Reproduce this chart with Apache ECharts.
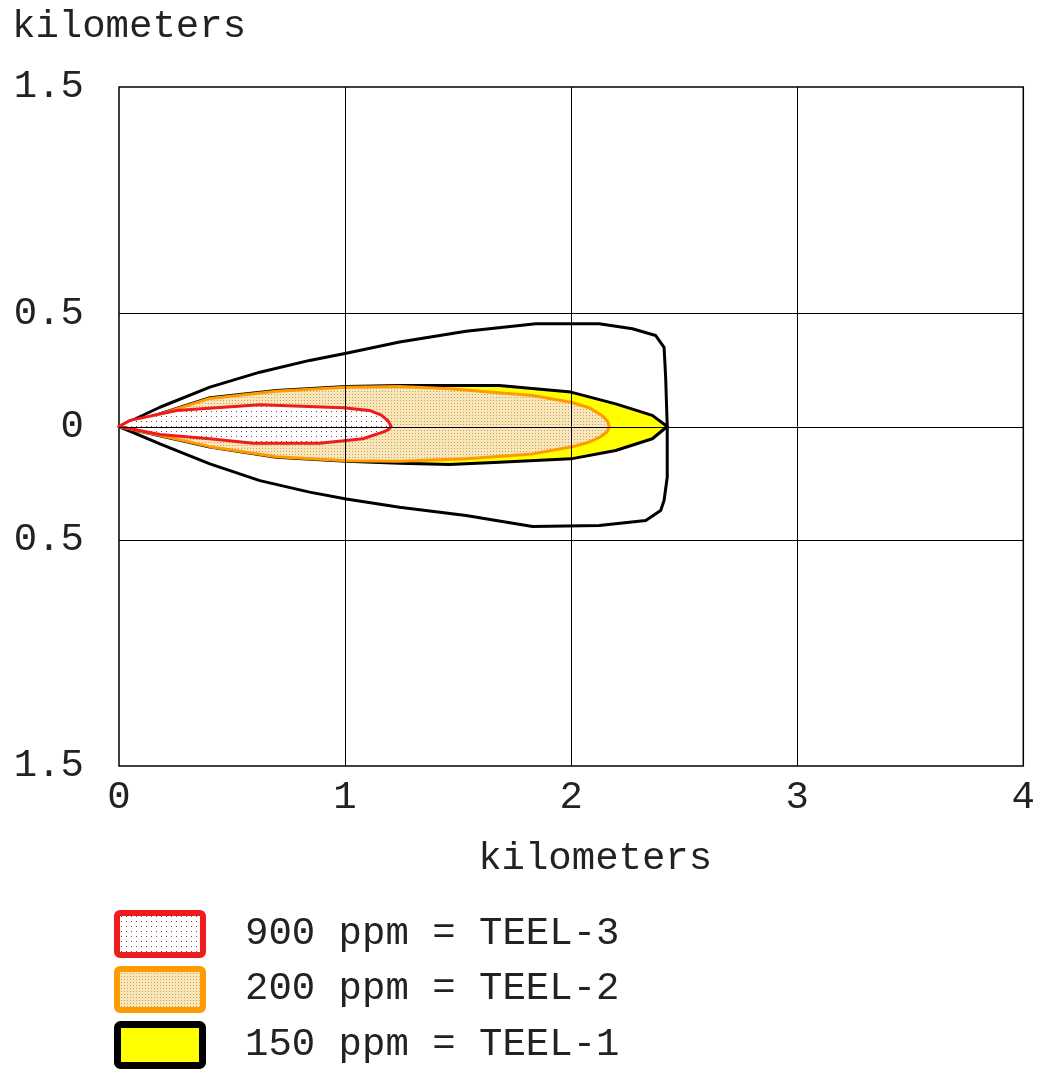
<!DOCTYPE html>
<html>
<head>
<meta charset="utf-8">
<script src="https://cdn.jsdelivr.net/npm/echarts@6/dist/echarts.min.js"></script>
<style>
  html, body { margin: 0; padding: 0; background: #fff; }
  #chart { width: 1038px; height: 1073px; }
</style>
</head>
<body>
<div id="chart"></div>
<script>
// Threat zone footprint, downwind distance (km) vs crosswind distance (km)
const xTicks = [0, 1, 2, 3, 4];
const yTickLabels = ['1.5', '0.5', '0', '0.5', '1.5'];
const gridX = [1, 2, 3];
const gridY = [0.5, 0, -0.5];

// wind direction confidence line
const confidenceLine = [
  [0, 0], [0.181, 0.085], [0.402, 0.174], [0.623, 0.24], [0.843, 0.292], [1.005, 0.324],
  [1.241, 0.373], [1.535, 0.421], [1.844, 0.454], [2.124, 0.454], [2.271, 0.432],
  [2.374, 0.402], [2.411, 0.35], [2.418, 0.218], [2.425, 0],
  [2.425, -0.224], [2.411, -0.327], [2.396, -0.371], [2.33, -0.415], [2.124, -0.437],
  [1.829, -0.442], [1.535, -0.393], [1.241, -0.357], [1.005, -0.32], [0.843, -0.29],
  [0.623, -0.239], [0.402, -0.165], [0.181, -0.077], [0, 0]
];

// 150 ppm = TEEL-1
const teel1Zone = [
  [0, 0], [0.2, 0.062], [0.402, 0.127], [0.696, 0.159], [1.005, 0.177], [1.241, 0.181],
  [1.682, 0.181], [1.999, 0.152], [2.197, 0.1], [2.359, 0.049], [2.425, 0],
  [2.359, -0.054], [2.197, -0.106], [1.999, -0.143], [1.682, -0.158], [1.461, -0.168],
  [1.241, -0.162], [1.005, -0.153], [0.696, -0.136], [0.402, -0.091], [0.2, -0.045], [0, 0]
];

// 200 ppm = TEEL-2
const teel2Zone = [
  [0, 0], [0.2, 0.06], [0.402, 0.124], [0.696, 0.156], [1.005, 0.173], [1.241, 0.177],
  [1.461, 0.167], [1.829, 0.137], [1.999, 0.107], [2.08, 0.083], [2.135, 0.05],
  [2.162, 0.022], [2.168, 0], [2.16, -0.022], [2.13, -0.046], [2.07, -0.072],
  [1.999, -0.091], [1.829, -0.121], [1.535, -0.143], [1.241, -0.153],
  [1.005, -0.151], [0.696, -0.134], [0.402, -0.089], [0.2, -0.043], [0, 0]
];

// 900 ppm = TEEL-3
const teel3Zone = [
  [0, 0], [0.049, 0.027], [0.255, 0.071], [0.623, 0.096], [0.99, 0.083], [1.108, 0.071],
  [1.16, 0.05], [1.19, 0.025], [1.204, 0], [1.19, -0.015],
  [1.167, -0.025], [1.079, -0.054], [0.887, -0.074], [0.593, -0.074], [0.402, -0.054],
  [0.181, -0.035], [0, 0]
];

const legendLabels = ['900 ppm = TEEL-3', '200 ppm = TEEL-2', '150 ppm = TEEL-1'];

const FONT = '"Liberation Mono", "Courier New", monospace';
const TEXT = '#222';

function dotPattern(bg, dot, w, h) {
  const c = document.createElement('canvas');
  c.width = w; c.height = h;
  const g = c.getContext('2d');
  g.fillStyle = bg; g.fillRect(0, 0, w, h);
  g.fillStyle = dot; g.fillRect(1, 1, 1, 1);
  return { image: c, repeat: 'repeat' };
}
const redDots = dotPattern('#ffffff', '#9a3a3a', 5, 5);
const orangeDots = dotPattern('#f7e8bc', '#d99a60', 3, 3);

function zoneSeries(points, style) {
  return {
    type: 'custom',
    coordinateSystem: 'cartesian2d',
    data: points,
    silent: true,
    renderItem: function (params, api) {
      if (params.dataIndex !== 0) return null;
      const pts = points.map(p => api.coord(p));
      return {
        type: style.fill === 'none' ? 'polyline' : 'polygon',
        shape: { points: pts },
        style: Object.assign({ lineJoin: 'round' }, style)
      };
    }
  };
}

const chart = echarts.init(document.getElementById('chart'), null, { renderer: 'canvas' });

chart.setOption({
  animation: false,
  backgroundColor: '#fff',
  title: {
    text: 'kilometers',
    left: 12, top: 7, padding: 0,
    textStyle: { fontFamily: FONT, fontSize: 39, fontWeight: 'normal', color: TEXT }
  },
  grid: {
    left: 119, right: 13, top: 87, bottom: 307,
    show: true, borderColor: '#000', borderWidth: 1.5, backgroundColor: 'transparent'
  },
  xAxis: {
    type: 'value', min: 0, max: 4, interval: 1,
    name: 'kilometers', nameLocation: 'middle', nameGap: 73,
    nameTextStyle: { fontFamily: FONT, fontSize: 39, color: TEXT, padding: [0, 0, 0, 48] },
    axisLine: { show: false }, axisTick: { show: false }, splitLine: { show: false },
    axisLabel: {
      margin: 12, fontFamily: FONT, fontSize: 39, color: TEXT,
      formatter: v => xTicks.includes(v) ? String(v) : ''
    }
  },
  yAxis: {
    type: 'value', min: -1.5, max: 1.5, interval: 0.5,
    axisLine: { show: false }, axisTick: { show: false }, splitLine: { show: false },
    axisLabel: {
      margin: 35, fontFamily: FONT, fontSize: 39, color: TEXT,
      formatter: function (v) {
        const idx = [1.5, 0.5, 0, -0.5, -1.5].indexOf(Math.round(v * 10) / 10);
        return idx < 0 ? '' : yTickLabels[idx];
      }
    }
  },
  series: [
    zoneSeries(confidenceLine, { fill: 'none', stroke: '#000', lineWidth: 3 }),
    zoneSeries(teel1Zone, { fill: '#ffff00', stroke: '#000', lineWidth: 3 }),
    zoneSeries(teel2Zone, { fill: orangeDots, stroke: '#ff9a00', lineWidth: 3 }),
    zoneSeries(teel3Zone, { fill: redDots, stroke: '#ee1c1c', lineWidth: 3 }),
    {
      type: 'custom', coordinateSystem: 'cartesian2d', silent: true, z: 10,
      data: gridX.map(v => [v, 0]),
      renderItem: function (params, api) {
        const a = api.coord([api.value(0), -1.5]);
        const b = api.coord([api.value(0), 1.5]);
        return { type: 'line', shape: { x1: Math.round(a[0]) + 0.5, y1: a[1], x2: Math.round(b[0]) + 0.5, y2: b[1] },
                 style: { stroke: '#000', lineWidth: 1 } };
      }
    },
    {
      type: 'custom', coordinateSystem: 'cartesian2d', silent: true, z: 10,
      data: gridY.map(v => [0, v]),
      renderItem: function (params, api) {
        const a = api.coord([0, api.value(1)]);
        const b = api.coord([4, api.value(1)]);
        return { type: 'line', shape: { x1: a[0], y1: Math.round(a[1]) + 0.5, x2: b[0], y2: Math.round(b[1]) + 0.5 },
                 style: { stroke: '#000', lineWidth: 1 } };
      }
    }
  ],
  graphic: [
    { type: 'rect', shape: { x: 117, y: 913, width: 86, height: 42, r: 3 },
      style: { fill: redDots, stroke: '#ee1c1c', lineWidth: 6 } },
    { type: 'rect', shape: { x: 117, y: 969, width: 86, height: 41, r: 3 },
      style: { fill: orangeDots, stroke: '#ff9a00', lineWidth: 6 } },
    { type: 'rect', shape: { x: 117.5, y: 1024.5, width: 85, height: 41, r: 3 },
      style: { fill: '#ffff00', stroke: '#000', lineWidth: 7 } },
    { type: 'text', x: 245, y: 934, style: { text: legendLabels[0], font: '39px ' + FONT, fill: TEXT, textVerticalAlign: 'middle' } },
    { type: 'text', x: 245, y: 989, style: { text: legendLabels[1], font: '39px ' + FONT, fill: TEXT, textVerticalAlign: 'middle' } },
    { type: 'text', x: 245, y: 1045, style: { text: legendLabels[2], font: '39px ' + FONT, fill: TEXT, textVerticalAlign: 'middle' } }
  ]
});
</script>
</body>
</html>
